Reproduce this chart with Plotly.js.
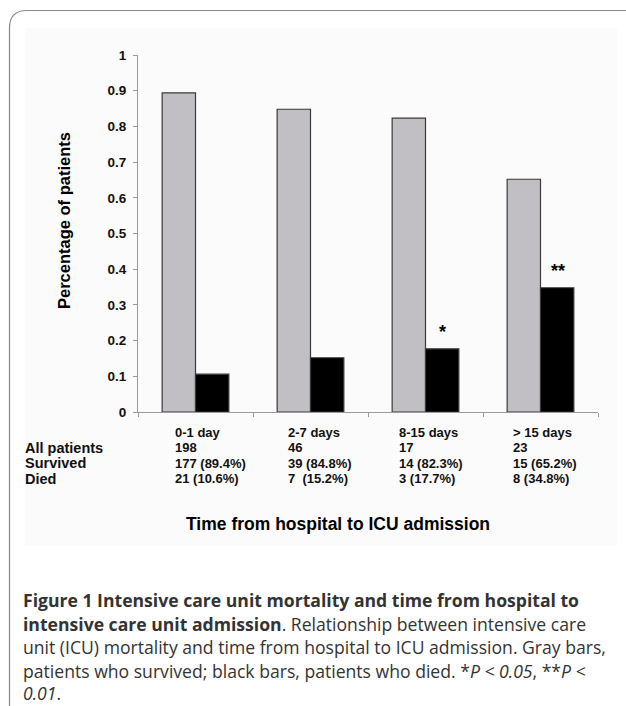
<!DOCTYPE html>
<html>
<head>
<meta charset="utf-8">
<script src="https://cdn.plot.ly/plotly-3.0.1.min.js"></script>
<style>html,body{margin:0;padding:0;background:#fff;}#chart{width:626px;height:706px;}</style>
</head>
<body>
<div id="chart"></div>
<script>
// ---- data ----
const categories = ["0-1 day", "2-7 days", "8-15 days", "> 15 days"];
const allPatients = [198, 46, 17, 23];
const survivedN = [177, 39, 14, 15];
const survivedPct = [89.4, 84.8, 82.3, 65.2];
const diedN = [21, 7, 3, 8];
const diedPct = [10.6, 15.2, 17.7, 34.8];
const significance = ["", "", "*", "**"];
const rowLabels = ["All patients", "Survived", "Died"];
const yTickVals = [0, 0.1, 0.2, 0.3, 0.4, 0.5, 0.6, 0.7, 0.8, 0.9, 1];
const yTickText = ["0", "0.1", "0.2", "0.3", "0.4", "0.5", "0.6", "0.7", "0.8", "0.9", "1"];
const yTitle = "Percentage of patients";
const xTitle = "Time from hospital to ICU admission";
const captionLines = [
  "<b>Figure 1 Intensive care unit mortality and time from hospital to</b>",
  "<b>intensive care unit admission</b>. Relationship between intensive care",
  "unit (ICU) mortality and time from hospital to ICU admission. Gray bars,",
  "patients who survived; black bars, patients who died. *<i>P &lt; 0.05</i>, **<i>P &lt;</i>",
  "<i>0.01</i>."
];

// ---- layout geometry (pixels) ----
const W = 626, H = 706;
const L = 138, R = 598, T = 55, B = 412;
const fx = X => (X - L) / (R - L);
const fy = Y => (B - Y) / (B - T);
const ARIAL = "Liberation Sans, Arial, sans-serif";

const survivedFrac = survivedPct.map(v => v / 100);
const diedFrac = diedPct.map(v => v / 100);

const traces = [
  {type: "bar", x: categories, y: survivedFrac, name: "Survived",
   marker: {color: "#c1bfc3", line: {color: "#3a3a3a", width: 1.2}}, hoverinfo: "none"},
  {type: "bar", x: categories, y: diedFrac, name: "Died",
   marker: {color: "#000000", line: {color: "#3a3a3a", width: 1.2}}, hoverinfo: "none"}
];

const ann = [];
const rowY = [432, 447.5, 463, 478.5];
const colOffsets = [-0.2, -0.21, -0.245, -0.255];
categories.forEach((c, i) => {
  const lines = [
    c,
    String(allPatients[i]),
    survivedN[i] + " (" + survivedPct[i].toFixed(1) + "%)",
    diedN[i] + (i === 1 ? "&nbsp;" : "") + " (" + diedPct[i].toFixed(1) + "%)"
  ];
  lines.forEach((t, r) => {
    ann.push({
      xref: "x", yref: "paper", x: i + colOffsets[i], y: fy(rowY[r]), xanchor: "left", yanchor: "middle",
      showarrow: false, font: {family: ARIAL, size: 13, color: "#111"}, text: "<b>" + t + "</b>"
    });
  });
  if (significance[i]) {
    ann.push({xref: "x", yref: "y", x: i, y: diedFrac[i], xshift: 17, yshift: 5, yanchor: "bottom", xanchor: "center",
      showarrow: false, text: "<b>" + significance[i] + "</b>",
      font: {family: ARIAL, size: 18, color: "#000"}});
  }
});
rowLabels.forEach((t, r) => {
  ann.push({
    xref: "paper", yref: "paper", x: fx(23), y: fy(rowY[r + 1]), xanchor: "left", yanchor: "middle",
    showarrow: false, font: {family: ARIAL, size: 14.5, color: "#111"}, text: "<b>" + t + "</b>"
  });
});
ann.push({
  xref: "paper", yref: "paper", x: fx(64), y: fy(221), xanchor: "center", yanchor: "middle", textangle: -90,
  showarrow: false, font: {family: ARIAL, size: 16.5, color: "#000"}, text: "<b>" + yTitle + "</b>"
});
ann.push({
  xref: "paper", yref: "paper", x: fx(338), y: fy(524), xanchor: "center", yanchor: "middle", showarrow: false,
  font: {family: ARIAL, size: 17.5, color: "#000"}, text: "<b>" + xTitle + "</b>"
});
const capY = [600, 623.5, 647, 670.5, 693];
captionLines.forEach((t, k) => {
  ann.push({
    xref: "paper", yref: "paper", x: fx(21), y: fy(capY[k]), xanchor: "left", yanchor: "middle",
    showarrow: false, font: {family: "Open Sans, Noto Sans, sans-serif", size: 17.6, color: "#333"}, text: t
  });
});

const shapes = [
  {type: "rect", xref: "paper", yref: "paper", x0: fx(25), x1: fx(617), y0: fy(28), y1: fy(546),
   fillcolor: "#fbfbfb", line: {width: 0}, layer: "below"},
  {type: "path", xref: "paper", yref: "paper", layer: "above",
   path: "M " + fx(9.5) + "," + fy(710) + " L " + fx(9.5) + "," + fy(28) +
         " Q " + fx(9.5) + "," + fy(10.5) + " " + fx(27) + "," + fy(10.5) + " L " + fx(630) + "," + fy(10.5),
   line: {color: "#8a8a8a", width: 1.2}}
];

const layout = {
  width: W, height: H,
  margin: {l: L, r: W - R, t: T, b: H - B, pad: 0},
  paper_bgcolor: "#ffffff", plot_bgcolor: "rgba(0,0,0,0)",
  showlegend: false,
  barmode: "group", bargap: 0.42, bargroupgap: 0,
  xaxis: {type: "category", range: [-0.5, 3.5], showticklabels: false, showgrid: false, zeroline: false,
          showline: true, linecolor: "#9a9a9a", linewidth: 1, ticks: "outside", tickson: "boundaries",
          ticklen: 4, tickcolor: "#9a9a9a", fixedrange: true},
  yaxis: {range: [0, 1], tickvals: yTickVals, ticktext: yTickText.map(t => "<b>" + t + "</b>"),
          showgrid: false, zeroline: false,
          showline: true, linecolor: "#9a9a9a", linewidth: 1, ticks: "outside", ticklen: 4, tickcolor: "#9a9a9a",
          tickfont: {family: ARIAL, size: 13.5, color: "#111"},
          ticklabelstandoff: 4, fixedrange: true},
  annotations: ann,
  shapes: shapes
};

Plotly.newPlot("chart", traces, layout, {staticPlot: true, displayModeBar: false});
</script>
</body>
</html>
